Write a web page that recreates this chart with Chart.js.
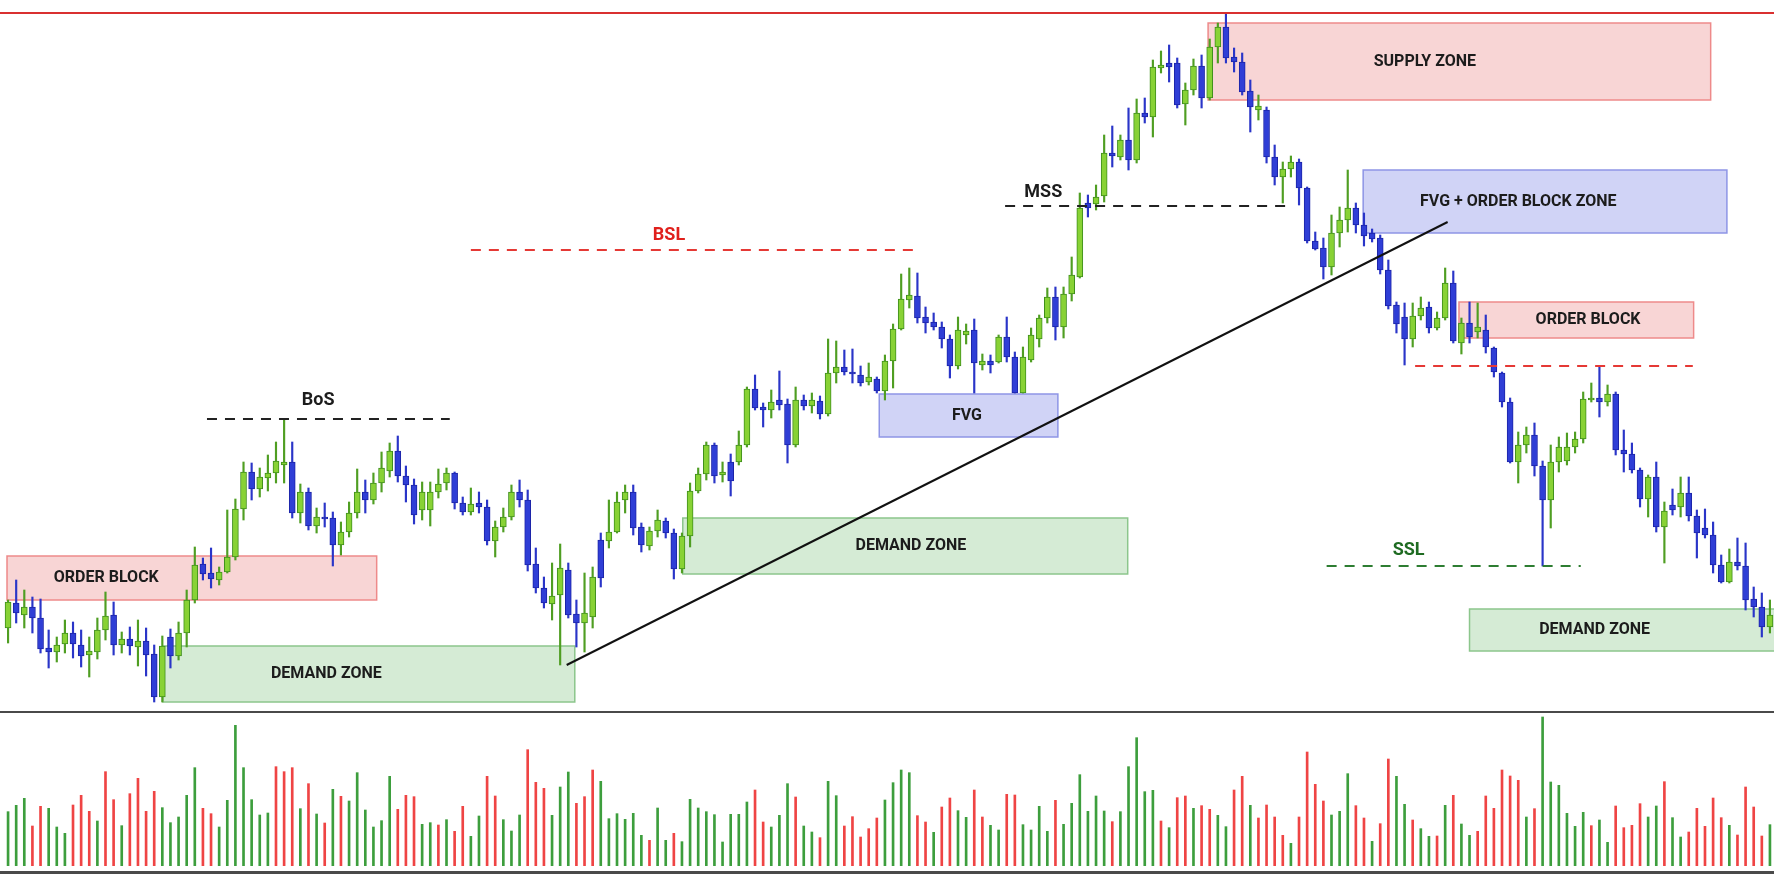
<!DOCTYPE html>
<html>
<head>
<meta charset="utf-8">
<script src="https://cdn.jsdelivr.net/npm/chart.js@4.4.1/dist/chart.umd.min.js"></script>
<style>
  html, body { margin:0; padding:0; background:#fff; }
  #wrap { position:relative; width:1774px; height:887px; overflow:hidden; }
  #price-box { position:absolute; left:0; top:0; width:1774px; height:712px; }
  #vol-box { position:absolute; left:0; top:714px; width:1774px; height:152px; }
  .sep { position:absolute; left:0; width:1774px; background:#4a4a4a; }
</style>
</head>
<body>
<div id="wrap">
  <div id="price-box"><canvas id="price"></canvas></div>
  <div class="sep" style="top:711px;height:2px"></div>
  <div id="vol-box"><canvas id="vol"></canvas></div>
  <div class="sep" style="top:871px;height:3px"></div>
</div>
<script>
// candles (price in points)
const opens = [84,109,97,105,94,64,60,68,79,67, 57,60,82,97,67,73,65,71,58,15,
  75,56,79,112,148,139,132,140,155,203, 240,223,234,239,247,250,199,220,186,195,
  194,167,180,199,220,212,229,241,261,236, 227,202,202,220,229,239,209,200,209,205,
  171,185,195,220,212,148,124,108,117,142, 98,89,95,172,171,180,212,220,185,166,181,
  191,179,143,176,221,238,267,237,250,250, 267,323,305,302,312,308,267,312,306,311,
  298,339,345,340,337,330,333,321,351,383, 412,416,395,390,385,373,346,377,382,347,
  351,350,375,355,319,352,373,394,415,385, 418,435,509,508,516,559,555,572,552,599,
  595,644,649,649,608,622,646,614,665,685, 655,650,621,602,602,555,535,543,550,524,
  471,464,445,479,492,504,487,479,474,442, 407,395,373,396,405,384,394,429,369,389,
  380,382,364,339,310,250,267,277,246,212, 250,251,265,273,312,314,310,318,262,258,
  242,213,235,185,207,205,219,196,184,177, 147,130,150,146,113,105,85];
const highs = [112,132,122,115,113,82,75,92,90,82, 75,94,120,110,80,85,92,84,67,76,
  83,90,122,165,154,164,145,202,213,250, 249,244,257,270,292,270,228,224,204,209,
  200,190,210,243,232,239,260,269,276,246, 233,230,230,243,244,240,215,224,220,212,
  191,204,227,232,222,164,135,149,168,149, 112,139,145,179,212,220,227,227,189,185,202,
  194,183,179,229,244,270,269,250,258,281, 325,337,309,322,341,313,325,317,319,316,
  373,371,362,363,346,349,335,357,388,438, 444,439,405,399,390,377,395,388,393,358,
  357,377,395,360,365,384,397,424,425,425, 455,519,517,527,577,586,577,604,613,614,
  652,661,667,654,629,653,657,673,689,699, 664,659,632,617,605,567,550,556,553,525,
  480,474,497,505,542,509,499,483,477,452, 410,409,409,415,410,400,444,441,394,410,
  409,397,365,340,314,280,285,289,251,267, 275,279,280,320,329,346,327,320,282,269,
  244,237,250,210,223,235,235,202,203,190, 157,163,174,169,125,119,112];
const lows = [69,89,84,79,59,44,50,59,54,45, 35,53,72,57,59,57,46,36,10,10,
  44,52,65,109,132,124,127,139,152,192, 212,215,221,229,229,194,189,182,179,185,
  146,157,175,194,199,208,220,235,230,210, 188,192,186,214,222,203,197,197,199,167,
  155,180,192,205,141,119,104,92,47,94, 65,60,84,125,164,179,199,177,160,162,175,
  174,133,139,165,219,232,229,230,216,247, 265,302,285,294,302,249,265,302,299,293,
  296,329,337,329,326,327,319,312,324,382, 404,389,379,382,364,334,343,368,319,342,
  339,349,350,319,319,350,365,389,372,374, 411,434,495,502,510,545,552,542,549,589,
  575,639,630,604,587,617,604,612,649,649, 640,617,580,592,549,527,509,535,507,469,
  462,433,437,465,480,479,466,470,438,403, 379,347,365,392,379,382,392,369,358,369,
  374,359,335,305,249,229,259,236,146,184, 240,247,259,269,310,295,306,257,240,239,
  205,195,180,149,197,195,191,154,174,139, 129,129,142,102,95,75,79];
const closes = [110,99,105,94,63,60,67,79,68,56, 61,82,96,67,73,66,71,57,15,66,
  56,79,112,147,138,133,140,155,203,240, 223,235,239,251,250,199,220,186,195,193,
  167,180,199,220,212,229,244,261,236,227, 197,220,220,228,239,209,200,208,205,171,
  185,195,220,212,147,124,109,116,144,97, 89,99,135,134,180,210,220,184,167,181,192,
  179,143,176,221,238,267,236,240,231,267, 323,304,302,310,307,267,312,306,312,298,
  339,345,340,338,329,335,321,351,383,413, 417,394,389,385,373,346,382,381,349,351,
  347,375,355,319,355,377,394,415,385,418, 437,504,504,515,559,556,572,552,599,595,
  645,647,645,607,622,646,614,665,685,654, 650,620,605,606,555,535,543,550,524,471,
  463,445,479,492,504,487,476,473,442,406, 388,373,396,404,384,394,429,371,389,375,
  385,365,340,310,250,267,277,246,212,250, 265,265,273,313,314,310,318,262,258,242,
  213,235,185,201,202,219,196,179,177,147, 130,150,146,112,105,85,97];

// volume bars and their colours (g = up, r = down)
const volumes = [163,182,203,120,179,173,117,98,183,212,164,135,283,199,121,217,263,164,224,175,
  130,147,212,295,173,157,117,197,422,295,199,153,159,298,283,295,172,247,156,129,
  230,209,195,280,168,117,136,269,170,212,208,125,130,123,139,104,179,89,150,269,
  210,139,105,153,349,251,233,152,237,282,188,208,288,254,
  142,157,140,158,92,77,174,77,98,73,200,174,163,154,72,155,155,192,228,132,
  117,152,247,207,120,102,85,254,211,120,148,87,112,144,198,250,288,280,151,132,
  101,177,204,166,146,228,147,122,108,215,213,124,108,179,104,197,125,188,274,164,
  210,165,133,163,298,385,223,227,135,115,205,210,
  173,181,170,152,118,228,269,182,144,183,147,92,68,147,342,245,195,153,164,277,
  181,144,74,127,321,269,185,138,112,89,90,182,212,126,92,104,210,173,288,270,
  257,147,172,447,252,242,158,119,161,121,138,71,180,115,122,187,147,180,253,145,
  87,102,173,119,204,145,122,93,237,177,90,124];
const volumeSide = ('gggrrgggrr' + 'rgrrgrrrrg' + 'ggggrrgggg' + 'gggrrrgrgr' + 'grggggggrr' +
  'rggrgrrggr' + 'rgggrrrggg' + 'rrrg' +
  'gggggrggrg' + 'ggggggggrr' + 'gggrggrggr' + 'rrrrggggrr' + 'grrggrrggr' +
  'rggggrgggg' + 'ggrgggggrg' + 'rr' +
  'grrggrrgrr' + 'rrgrrrrggg' + 'rrgrrggrgg' + 'rgrggrrrrr' + 'rgrggggggr' +
  'ggrrrrggrg' + 'grrrrrgrrr' + 'rg').split('');

const slots = volumes.map((_, i) => i);

// annotations (x in bar index, y in price)
const zoneNames  = ['ORDER BLOCK', 'DEMAND ZONE', 'DEMAND ZONE', 'FVG', 'SUPPLY ZONE', 'FVG + ORDER BLOCK ZONE', 'ORDER BLOCK', 'DEMAND ZONE'];
const zoneKinds  = ['red', 'green', 'green', 'blue', 'red', 'blue', 'red', 'green'];
const zoneStart  = [-0.13, 19.08, 83.1, 107.3, 147.8, 166.9, 178.7, 180.0];
const zoneEnd    = [45.4, 69.8, 137.9, 129.3, 209.7, 211.7, 207.6, 218.5];
const zoneTop    = [156, 66, 194, 318, 689, 542, 410, 103];
const zoneBottom = [112, 10, 138, 275, 612, 479, 374, 61];
const zoneTextAt = [12.1, 39.2, 111.2, 118.1, 174.5, 186.0, 194.6, 195.4];

const levelNames  = ['BoS', 'BSL', 'MSS', 'SSL', ''];
const levelKinds  = ['black', 'red', 'black', 'green', 'red'];
const levelStart  = [24.5, 57.0, 122.8, 162.4, 173.3];
const levelEnd    = [54.4, 111.8, 157.4, 193.7, 207.5];
const levelPrice  = [293, 462, 506, 146, 346];
const levelTextAt = [38.2, 81.4, 127.5, 172.5, 0];
const levelTextPrice = [312, 477, 520, 162, 0];

const trendIdx   = [68.8, 177.3];
const trendPrice = [47, 490];
const ceilingPrice = 699;

const zoneStyle = {
  red:   { fill:'rgba(238,150,150,0.40)', line:'#ee8a8a' },
  green: { fill:'rgba(150,205,150,0.40)', line:'#8cc68c' },
  blue:  { fill:'rgba(150,158,235,0.45)', line:'#8e95e6' }
};
const levelStyle = {
  black: { color:'#222', text:'#1c1c1c' },
  red:   { color:'#e53935', text:'#e0201c' },
  green: { color:'#2e7d32', text:'#1f6b22' }
};

const overlay = {
  id: 'overlay',
  beforeDatasetsDraw(chart) {
    const { ctx, scales: { x, y } } = chart;
    ctx.save();
    zoneNames.forEach((_, i) => {
      const st = zoneStyle[zoneKinds[i]];
      const x0 = x.getPixelForValue(zoneStart[i]), x1 = x.getPixelForValue(zoneEnd[i]);
      const y0 = y.getPixelForValue(zoneTop[i]), y1 = y.getPixelForValue(zoneBottom[i]);
      ctx.fillStyle = st.fill;
      ctx.fillRect(x0, y0, x1 - x0, y1 - y0);
      ctx.strokeStyle = st.line;
      ctx.lineWidth = 1.5;
      ctx.strokeRect(x0, y0, x1 - x0, y1 - y0);
    });
    ctx.restore();
  },
  afterDatasetsDraw(chart) {
    const { ctx, scales: { x, y } } = chart;
    ctx.save();
    // dashed levels
    levelNames.forEach((name, i) => {
      const st = levelStyle[levelKinds[i]];
      ctx.strokeStyle = st.color;
      ctx.lineWidth = 2;
      ctx.setLineDash([10, 8]);
      const yy = y.getPixelForValue(levelPrice[i]);
      ctx.beginPath();
      ctx.moveTo(x.getPixelForValue(levelStart[i]), yy);
      ctx.lineTo(x.getPixelForValue(levelEnd[i]), yy);
      ctx.stroke();
      if (name) {
        ctx.setLineDash([]);
        ctx.fillStyle = st.text;
        ctx.font = 'bold 18px Roboto';
        ctx.textAlign = 'center';
        ctx.textBaseline = 'middle';
        ctx.fillText(name, x.getPixelForValue(levelTextAt[i]), y.getPixelForValue(levelTextPrice[i]));
      }
    });
    ctx.setLineDash([]);
    // trendline
    ctx.strokeStyle = '#111';
    ctx.lineWidth = 2;
    ctx.beginPath();
    ctx.moveTo(x.getPixelForValue(trendIdx[0]), y.getPixelForValue(trendPrice[0]));
    ctx.lineTo(x.getPixelForValue(trendIdx[1]), y.getPixelForValue(trendPrice[1]));
    ctx.stroke();
    // top line
    ctx.strokeStyle = '#d93030';
    ctx.lineWidth = 2;
    const yc = y.getPixelForValue(ceilingPrice);
    ctx.beginPath();
    ctx.moveTo(0, yc);
    ctx.lineTo(chart.width, yc);
    ctx.stroke();
    // zone labels
    ctx.fillStyle = '#1c1c1c';
    ctx.font = 'bold 16px Roboto';
    ctx.textAlign = 'center';
    ctx.textBaseline = 'middle';
    zoneNames.forEach((name, i) => {
      const yy = (y.getPixelForValue(zoneTop[i]) + y.getPixelForValue(zoneBottom[i])) / 2;
      ctx.fillText(name, x.getPixelForValue(zoneTextAt[i]), yy);
    });
    ctx.restore();
  }
};

const up = closes.map((c, i) => c >= opens[i]);

new Chart(document.getElementById('price'), {
  type: 'bar',
  data: {
    labels: slots,
    datasets: [
      {
        label: 'body',
        data: opens.map((o, i) => [Math.min(o, closes[i]), Math.max(o, closes[i])]),
        backgroundColor: up.map(u => u ? '#88d235' : '#2f3ed6'),
        borderColor: up.map(u => u ? '#3f8f1c' : '#1c24a8'),
        borderWidth: 1,
        borderSkipped: false,
        barThickness: 6,
        minBarLength: 2,
        grouped: false,
        order: 0
      },
      {
        label: 'wick',
        data: lows.map((l, i) => [l, highs[i]]),
        backgroundColor: up.map(u => u ? '#4f9e22' : '#2a35c8'),
        borderWidth: 0,
        barThickness: 1.5,
        grouped: false,
        order: 1
      }
    ]
  },
  options: {
    responsive: true, maintainAspectRatio: false, animation: false,
    layout: { padding: { left: 4, right: 0, top: 0, bottom: 0 } },
    plugins: { legend: { display: false }, tooltip: { enabled: false } },
    scales: {
      x: { display: false, grid: { display: false } },
      y: { display: false, min: 0, max: 712 }
    }
  },
  plugins: [overlay]
});

new Chart(document.getElementById('vol'), {
  type: 'bar',
  data: {
    labels: slots,
    datasets: [{
      label: 'volume',
      data: volumes,
      backgroundColor: volumeSide.map(s => s === 'g' ? '#3d9e3d' : '#ef4444'),
      borderWidth: 0,
      barThickness: 2
    }]
  },
  options: {
    responsive: true, maintainAspectRatio: false, animation: false,
    layout: { padding: { left: 4, right: 0, top: 0, bottom: 0 } },
    plugins: { legend: { display: false }, tooltip: { enabled: false } },
    scales: {
      x: { display: false, grid: { display: false } },
      y: { display: false, min: 0, max: 456 }
    }
  }
});
</script>
</body>
</html>
